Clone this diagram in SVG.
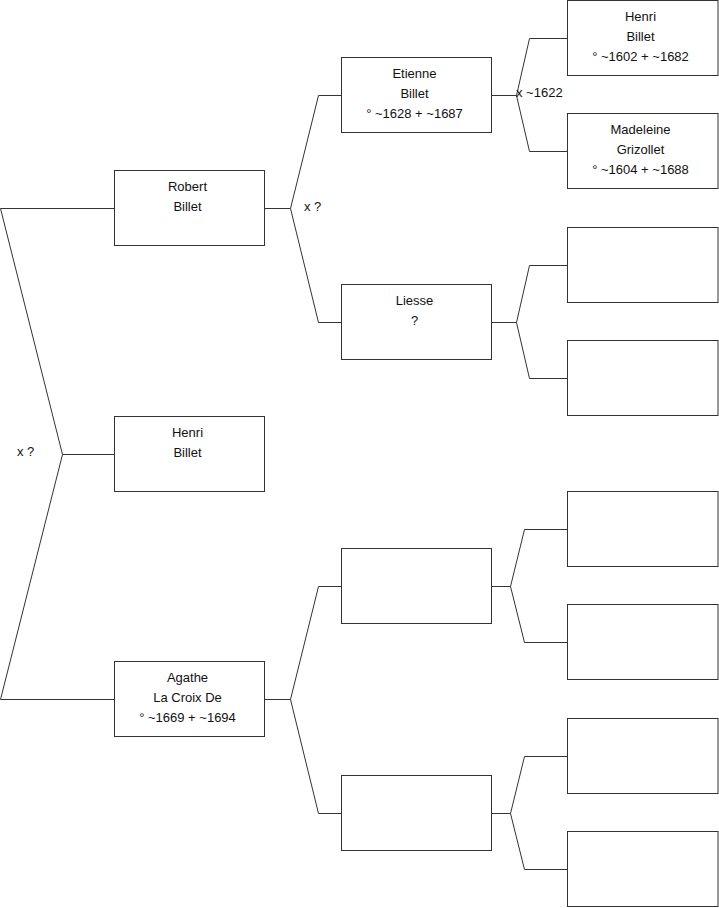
<svg xmlns="http://www.w3.org/2000/svg" width="719" height="908" viewBox="0 0 719 908">
<style>
.box{fill:#fff;stroke:#333;stroke-width:1}
.t{font-family:"Liberation Sans",Arial,sans-serif;font-size:13px;fill:#111;text-anchor:middle}
.l{font-family:"Liberation Sans",Arial,sans-serif;font-size:13px;fill:#111}
.c{fill:none;stroke:#333;stroke-width:1}
</style>
<rect width="719" height="908" fill="#fff"/>
<g id="connectors">
<polyline class="c" points="114,208.5 0.5,208.5 62.5,454.5 0.5,699.5 114,699.5"/>
<line class="c" x1="62.5" y1="454.5" x2="114" y2="454.5"/>
<polyline class="c" points="341,95.5 318.5,95.5 290.5,208.5 318.5,322.5 341,322.5"/>
<line class="c" x1="265" y1="208.5" x2="290.5" y2="208.5"/>
<polyline class="c" points="341,586.5 318.5,586.5 290.5,699.5 318.5,813.5 341,813.5"/>
<line class="c" x1="265" y1="699.5" x2="290.5" y2="699.5"/>
<polyline class="c" points="567,38.5 529.5,38.5 516.5,95.5 529.5,151.5 567,151.5"/>
<line class="c" x1="492" y1="95.5" x2="516.5" y2="95.5"/>
<polyline class="c" points="567,265.5 529.5,265.5 516.5,322.5 529.5,378.5 567,378.5"/>
<line class="c" x1="492" y1="322.5" x2="516.5" y2="322.5"/>
<polyline class="c" points="567,529.5 524.5,529.5 510.5,586.5 524.5,642.5 567,642.5"/>
<line class="c" x1="492" y1="586.5" x2="510.5" y2="586.5"/>
<polyline class="c" points="567,756.5 524.5,756.5 510.5,813.5 524.5,869.5 567,869.5"/>
<line class="c" x1="492" y1="813.5" x2="510.5" y2="813.5"/>
<text class="l" x="17" y="456">x ?</text>
<text class="l" x="304" y="211">x ?</text>
<text class="l" x="516" y="97">x ~1622</text>
</g>
<g id="robert"><rect class="box" x="114.5" y="170.5" width="150" height="75"/><text class="t" x="187.5" y="191">Robert</text><text class="t" x="187.5" y="211">Billet</text></g>
<g id="henri1"><rect class="box" x="114.5" y="416.5" width="150" height="75"/><text class="t" x="187.5" y="437">Henri</text><text class="t" x="187.5" y="457">Billet</text></g>
<g id="agathe"><rect class="box" x="114.5" y="661.5" width="150" height="75"/><text class="t" x="187.5" y="682">Agathe</text><text class="t" x="187.5" y="702">La Croix De</text><text class="t" x="187.5" y="722">° ~1669 + ~1694</text></g>
<g id="etienne"><rect class="box" x="341.5" y="57.5" width="150" height="75"/><text class="t" x="414.5" y="78">Etienne</text><text class="t" x="414.5" y="98">Billet</text><text class="t" x="414.5" y="118">° ~1628 + ~1687</text></g>
<g id="liesse"><rect class="box" x="341.5" y="284.5" width="150" height="75"/><text class="t" x="414.5" y="305">Liesse</text><text class="t" x="414.5" y="325">?</text></g>
<g id="empty1"><rect class="box" x="341.5" y="548.5" width="150" height="75"/></g>
<g id="empty2"><rect class="box" x="341.5" y="775.5" width="150" height="75"/></g>
<g id="henri2"><rect class="box" x="567.5" y="0.5" width="150.5" height="75"/><text class="t" x="640.5" y="21">Henri</text><text class="t" x="640.5" y="41">Billet</text><text class="t" x="640.5" y="61">° ~1602 + ~1682</text></g>
<g id="madeleine"><rect class="box" x="567.5" y="113.5" width="150.5" height="75"/><text class="t" x="640.5" y="134">Madeleine</text><text class="t" x="640.5" y="154">Grizollet</text><text class="t" x="640.5" y="174">° ~1604 + ~1688</text></g>
<g id="empty3"><rect class="box" x="567.5" y="227.5" width="150.5" height="75"/></g>
<g id="empty4"><rect class="box" x="567.5" y="340.5" width="150.5" height="75"/></g>
<g id="empty5"><rect class="box" x="567.5" y="491.5" width="150.5" height="75"/></g>
<g id="empty6"><rect class="box" x="567.5" y="604.5" width="150.5" height="75"/></g>
<g id="empty7"><rect class="box" x="567.5" y="718.5" width="150.5" height="75"/></g>
<g id="empty8"><rect class="box" x="567.5" y="831.5" width="150.5" height="75"/></g>
</svg>
